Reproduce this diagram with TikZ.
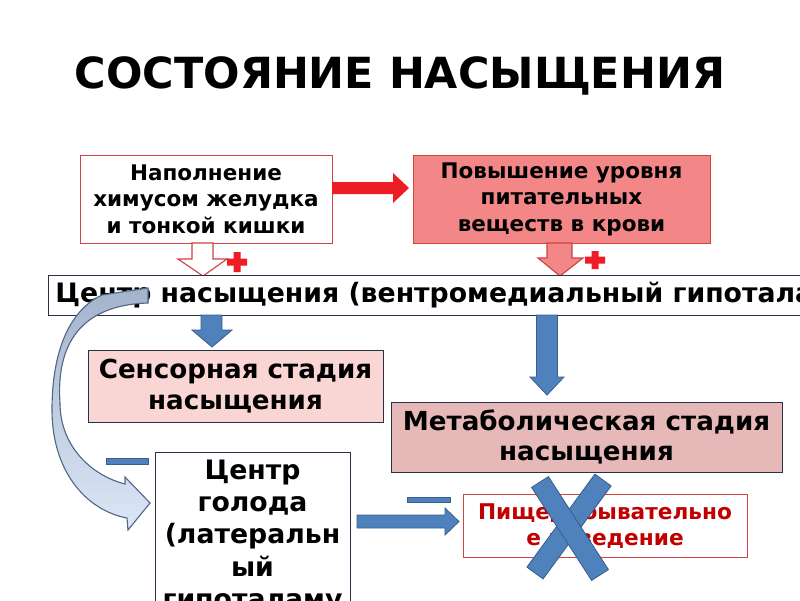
\documentclass[tikz,border=0pt]{standalone}
\usepackage{fontspec}
\setmainfont{DejaVu Sans}
\usepackage{tikz}
\definecolor{sinij}{HTML}{4F81BD}
\definecolor{sinijkraj}{HTML}{3A5F8C}
\definecolor{ramka}{HTML}{27324A}
\definecolor{krasnyj}{HTML}{EE1C24}
\definecolor{kirpich}{HTML}{D0433F}
\definecolor{alyj}{HTML}{F38686}
\definecolor{rozovyj}{HTML}{F9D5D4}
\definecolor{pudrovyj}{HTML}{E6B9B8}
\definecolor{bordo}{HTML}{C00000}
\definecolor{dugaverh}{HTML}{A3B3CC}
\definecolor{duganiz}{HTML}{DCE7F6}
\definecolor{dugakraj}{HTML}{56688A}

\begin{document}
\begin{tikzpicture}[x=0.025cm, y=-0.025cm,
    blok/.style={draw=ramka, line width=0.6pt, inner sep=0pt, align=center},
    sinstrelka/.style={fill=sinij, draw=sinijkraj, line width=0.6pt}]
    \useasboundingbox (0,0) rectangle (800,600);
    \clip (0,0) rectangle (800,600);
    \fill[white] (0,0) rectangle (800,600);
    % Заголовок
    \node[font=\bfseries\fontsize{30.5}{36}\selectfont] (titul) at (400,76) {СОСТОЯНИЕ НАСЫЩЕНИЯ};
    % Верхние блоки
    \node[blok, draw=kirpich, fill=white, minimum width=6.3cm, minimum height=2.2cm,
        font=\bfseries\fontsize{15.3}{18.8}\selectfont] (napolnenie) at (206,199)
        {Наполнение\\химусом желудка\\и тонкой кишки};
    \node[blok, draw=kirpich, fill=alyj, minimum width=7.425cm, minimum height=2.2cm,
        font=\bfseries\fontsize{15.3}{18.8}\selectfont] (povyshenie) at (561.5,199)
        {Повышение уровня\\питательных\\веществ в крови};
    \fill[krasnyj] (332,182) -- (393,182) -- (393,173) -- (409,188) -- (393,203) -- (393,194) -- (332,194) -- cycle;
    % Стрелки с плюсами
    \filldraw[fill=white, draw=kirpich, line width=0.8pt]
        (192,243) -- (213,243) -- (213,259) -- (227,259) -- (203,276) -- (178,259) -- (192,259) -- cycle;
    \fill[krasnyj] (227,258.5) rectangle (247,265.5) (233.5,252) rectangle (240.5,272);
    \filldraw[fill=alyj, draw=kirpich, line width=0.8pt]
        (547,243) -- (572,243) -- (572,258) -- (583,258) -- (560,276) -- (538,258) -- (547,258) -- cycle;
    \fill[krasnyj] (585,256.5) rectangle (605,263.5) (591.5,251) rectangle (598.5,269);
    % Центр насыщения
    \node[blok, anchor=west, fill=white, inner xsep=5pt, minimum height=1cm,
        font=\bfseries\fontsize{19}{22}\selectfont] (centrnas) at (48,295)
        {Центр насыщения (вентромедиальный гипоталамус)};
    % Стадии
    \node[blok, fill=rozovyj, minimum width=7.375cm, minimum height=1.8cm,
        font=\bfseries\fontsize{18.6}{21.8}\selectfont] (sensor) at (235.5,386)
        {Сенсорная стадия\\насыщения};
    \node[blok, fill=pudrovyj, minimum width=9.775cm, minimum height=1.75cm,
        font=\bfseries\fontsize{18.6}{21.3}\selectfont] (metabol) at (586.5,437)
        {Метаболическая стадия\\насыщения};
    \filldraw[sinstrelka] (201,315) -- (222,315) -- (222,330) -- (232,330) -- (212,347) -- (192,330) -- (201,330) -- cycle;
    \filldraw[sinstrelka] (536.5,315) -- (557.5,315) -- (557.5,377) -- (564,377) -- (547,395) -- (530,377) -- (536.5,377) -- cycle;
    % Центр голода и поведение
    \node[blok, fill=white, minimum width=4.875cm, minimum height=4.25cm,
        font=\bfseries\fontsize{19}{23}\selectfont] (golod) at (252.5,537)
        {Центр\\голода\\(латеральн\\ый\\гипоталаму};
    \node[blok, draw=kirpich, fill=white, minimum width=7.1cm, minimum height=1.575cm,
        text=bordo, font=\bfseries\fontsize{15.4}{19}\selectfont] (povedenie) at (605,525.5)
        {Пищедобывательно\\е поведение};
    \filldraw[sinstrelka] (357,515) -- (445,515) -- (445,508) -- (459,521.5) -- (445,535) -- (445,528) -- (357,528) -- cycle;
    % Минусы
    \filldraw[sinstrelka] (106,458) rectangle (148,464);
    \filldraw[sinstrelka] (407,497) rectangle (450,502);
    % Дуга
    \filldraw[draw=dugakraj, line width=0.8pt, top color=dugaverh, bottom color=duganiz]
        (102,295) -- (148,288) -- (148,303)
        .. controls (80,305) and (56,345) .. (60,403)
        .. controls (60,445) and (90,475) .. (125,484)
        -- (125,477) -- (150,503) -- (128,530) -- (127,518)
        .. controls (85,510) and (52,470) .. (52,410)
        .. controls (52,350) and (70,310) .. cycle;
    % Крест
    \filldraw[sinstrelka] (594.9,474.1) -- (611.1,485.9) -- (543.1,578.9) -- (526.9,567.1) -- cycle;
    \filldraw[sinstrelka] (531.6,487.4) -- (548.4,476.6) -- (608.4,569.6) -- (591.6,580.4) -- cycle;
\end{tikzpicture}
\end{document}
